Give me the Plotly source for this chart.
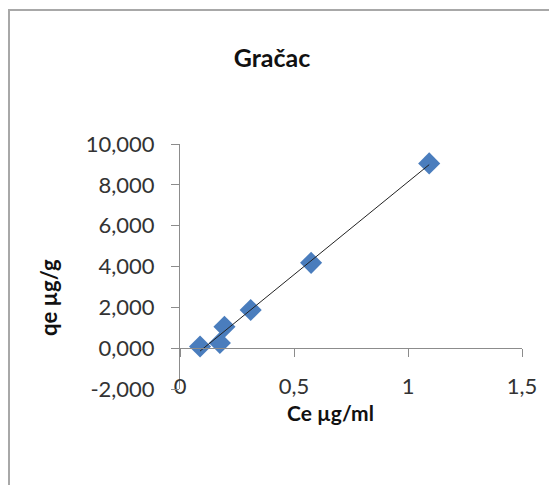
import numpy as np
import plotly.graph_objects as go

# Data (Ce in ug/ml, qe in ug/g)
ce = [0.088, 0.175, 0.195, 0.31, 0.575, 1.093]
qe = [0.08, 0.25, 1.05, 1.87, 4.18, 9.05]

x_ticks = [0, 0.5, 1, 1.5]
x_labels = ['0', '0,5', '1', '1,5']
y_ticks = [-2, 0, 2, 4, 6, 8, 10]
y_labels = ['-2,000', '0,000', '2,000', '4,000', '6,000', '8,000', '10,000']
x_range = [0, 1.5]
y_range = [-2, 10]

FONT = "Lato"
AXIS_GREY = "#8c8c8c"

# linear trendline over the data span
slope, intercept = np.polyfit(ce, qe, 1)
trend_x = [min(ce), max(ce)]
trend_y = [slope * v + intercept for v in trend_x]

fig = go.Figure()

fig.add_trace(go.Scatter(
    x=ce, y=qe,
    mode='markers',
    marker=dict(symbol='diamond', size=17, color='#4a7dbd',
                line=dict(color='#4a7dbd', width=0)),
    showlegend=False,
))

fig.add_trace(go.Scatter(
    x=trend_x, y=trend_y,
    mode='lines',
    line=dict(color='#222222', width=1),
    showlegend=False,
))

# dummy trace so xaxis2 is drawn
fig.add_trace(go.Scatter(x=[], y=[], xaxis='x2', showlegend=False))

# axis with the tick line sits at y = 0
zero_pos = (0 - y_range[0]) / (y_range[1] - y_range[0])

# page has an 8px body margin, so the figure is a bit smaller
W, H = 549, 477

fig.update_layout(
    width=W, height=H,
    margin=dict(l=172, r=35, t=136, b=96),
    paper_bgcolor='white',
    plot_bgcolor='white',
    font=dict(family=FONT, color='#222222'),
    title=dict(text='<b>Gračac</b>', x=264 / W, xanchor='center',
               y=1 - 50 / H, yanchor='middle',
               font=dict(size=25, family=FONT, color='#111111')),
    xaxis=dict(
        range=x_range, tickvals=x_ticks, ticktext=x_labels,
        showgrid=False, zeroline=False, showline=False,
        ticks='', anchor='free', position=0.075,
        tickfont=dict(size=22, color='#333333'),
    ),
    xaxis2=dict(
        range=x_range, tickvals=x_ticks, overlaying='x', matches='x',
        anchor='free', position=zero_pos,
        showgrid=False, zeroline=False, showline=True,
        linecolor=AXIS_GREY, linewidth=1,
        ticks='outside', ticklen=8, tickcolor=AXIS_GREY,
        showticklabels=False,
    ),
    yaxis=dict(
        range=y_range, tickvals=y_ticks, ticktext=y_labels,
        showgrid=False, zeroline=False, showline=True,
        linecolor=AXIS_GREY, linewidth=1,
        ticks='outside', ticklen=8, tickcolor=AXIS_GREY,
        ticklabelstandoff=12,
        tickfont=dict(size=22, color='#333333'),
    ),
    annotations=[
        dict(text='<b>Ce µg/ml</b>', xref='paper', yref='paper',
             x=0.439, y=-0.094, xanchor='center', yanchor='middle',
             showarrow=False, font=dict(size=21, color='#111111')),
        dict(text='<b>qe µg/g</b>', xref='paper', yref='paper',
             x=-0.386, y=0.3755, xanchor='center', yanchor='middle',
             textangle=-90, showarrow=False,
             font=dict(size=22, color='#111111')),
    ],
    shapes=[dict(
        type='rect', xref='paper', yref='paper',
        x0=(9 - 180) / 342, x1=(620 - 180) / 342,
        y0=(389 - 540) / 245, y1=(389 - 10) / 245,
        line=dict(color='#a8a8a8', width=2), layer='below',
    )],
)

fig.write_html("out.html")
